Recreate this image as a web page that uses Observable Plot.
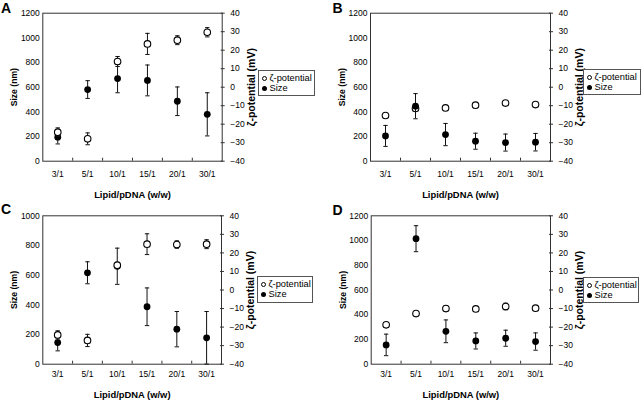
<!DOCTYPE html>
<html>
<head>
<meta charset="utf-8">
<script src="https://cdn.jsdelivr.net/npm/d3@7"></script>
<script src="https://cdn.jsdelivr.net/npm/@observablehq/plot@0.6"></script>
<style>
  html, body { margin: 0; padding: 0; background: #fff; }
  #root { position: relative; width: 641px; height: 401px; overflow: hidden;
          font-family: "Liberation Sans", Arial, sans-serif; color: #000; }
  .panel { position: absolute; }
  .panel svg { position: absolute; left: 0; top: 0; max-width: none !important; }
  .letter { position: absolute; font-weight: bold; font-size: 14px; line-height: 14px; }
  .legend { position: absolute; border: 1px solid #555; box-sizing: border-box; background: #fff;
            font-size: 9.3px; line-height: 10.5px; padding: 1.5px 0 0 3px; white-space: nowrap; }
  .legend .sw { display: inline-block; width: 5px; height: 5px; border-radius: 50%; box-sizing: border-box;
                margin-right: 2.5px; vertical-align: 0px; }
  .legend .open { border: 1px solid #000; background: #fff; }
  .legend .fill { background: #000; }
  svg [aria-label="y-axis label"] { font-weight: bold; }
  svg [aria-label="x-axis label"] { font-weight: bold; font-size: 9.4px; }
  svg.zt [aria-label="y-axis label"] { font-size: 10.5px; }
  svg.sz [aria-label="y-axis label"] { font-size: 8.6px; }
</style>
</head>
<body>
<div id="root"></div>
<script>
// ---- data ----
const ratios = ["3/1", "5/1", "10/1", "15/1", "20/1", "30/1"];
const sizeTicks1200 = [0, 200, 400, 600, 800, 1000, 1200];
const sizeTicks1000 = [0, 200, 400, 600, 800, 1000];
const zetaTicks = [-40, -30, -20, -10, 0, 10, 20, 30, 40];
const legendLabels = ["ζ-potential", "Size"];
const panelLetters = ["A", "B", "C", "D"];

// Panel A
const sizeA = [195, 581, 670, 655, 486, 380];
const sizeErrA = [55, 72, 115, 125, 116, 175];
const zetaA = [-24.3, -27.9, 13.9, 23.4, 25.4, 29.7];
const zetaErrA = [2.3, 3.2, 2.7, 5.7, 2.4, 2.5];
// Panel B
const sizeB = [205, 446, 216, 162, 151, 154];
const sizeErrB = [85, 102, 90, 65, 69, 71];
const zetaB = [-15.3, -11.5, -11.2, -9.7, -8.6, -9.4];
const zetaErrB = [0.8, 1.0, 0.8, 0.8, 0.8, 0.8];
// Panel C
const sizeC = [146, 616, 660, 387, 236, 178];
const sizeErrC = [56, 74, 122, 127, 119, 177];
const zetaC = [-24.2, -27.2, 13.4, 24.7, 24.5, 24.7];
const zetaErrC = [2.2, 3.3, 1.5, 5.6, 2.0, 2.4];
// Panel D
const sizeD = [156, 1015, 266, 188, 210, 183];
const sizeErrD = [87, 105, 92, 65, 65, 70];
const zetaD = [-18.8, -12.7, -10.0, -10.2, -8.9, -9.8];
const zetaErrD = [1.2, 0.5, 1.5, 1.0, 1.8, 1.0];

// ---- layout ----
const panels = [
  {letter: panelLetters[0], left: 0, top: 0, width: 320, height: 200, ml: 42.3, mr: 98.3, mt: 12.7, mb: 39.3,
   sizeMax: 1200, sizeTicks: sizeTicks1200, size: sizeA, sizeErr: sizeErrA, zeta: zetaA, zetaErr: zetaErrA,
   zetaOnTop: true, pad: 10, xlab: 37, lx: 1, ly: 1, leg: [258, 70, 57, 26]},
  {letter: panelLetters[1], left: 320, top: 0, width: 321, height: 200, ml: 50, mr: 91, mt: 12.7, mb: 39.3,
   sizeMax: 1200, sizeTicks: sizeTicks1200, size: sizeB, sizeErr: sizeErrB, zeta: zetaB, zetaErr: zetaErrB,
   zetaOnTop: false, pad: 10, xlab: 37, lx: 12.5, ly: 1, leg: [263, 69, 58, 26]},
  {letter: panelLetters[2], left: 0, top: 200, width: 320, height: 201, ml: 42.3, mr: 99, mt: 15.3, mb: 37.3,
   sizeMax: 1000, sizeTicks: sizeTicks1000, size: sizeC, sizeErr: sizeErrC, zeta: zetaC, zetaErr: zetaErrC,
   zetaOnTop: true, pad: 7, xlab: 34, lx: 1, ly: 2, leg: [257, 76, 56, 27]},
  {letter: panelLetters[3], left: 320, top: 200, width: 321, height: 201, ml: 50.7, mr: 91, mt: 15.3, mb: 37.3,
   sizeMax: 1200, sizeTicks: sizeTicks1200, size: sizeD, sizeErr: sizeErrD, zeta: zetaD, zetaErr: zetaErrD,
   zetaOnTop: false, pad: 7, xlab: 34, lx: 12.5, ly: 3, leg: [263, 77, 56, 26]}
];

const capSymbol = {draw(ctx) { ctx.moveTo(-2.2, 0); ctx.lineTo(2.2, 0); }};
const idx = d3.range(ratios.length);
const bounds = idx.slice(1).map(i => i - 0.5);
const fmtMinus = d => (d < 0 ? "\u2212" + Math.abs(d) : String(d));
const font = "'Liberation Sans', Arial, sans-serif";

const root = document.getElementById("root");

for (const p of panels) {
  const rows = idx.map(i => ({i, ratio: ratios[i], size: p.size[i], sizeErr: p.sizeErr[i], zeta: p.zeta[i], zetaErr: p.zetaErr[i]}));
  const common = {
    width: p.width, height: p.height,
    marginLeft: p.ml, marginRight: p.mr, marginTop: p.mt, marginBottom: p.mb,
    style: {background: "transparent", overflow: "visible", fontFamily: font, fontSize: "8.5px", color: "#000"}
  };

  const sizePlot = Plot.plot({
    ...common,
    className: "sz",
    x: {type: "linear", domain: [-0.5, ratios.length - 0.5]},
    y: {domain: [0, p.sizeMax]},
    marks: [
      Plot.frame({stroke: "#333", strokeWidth: 1}),
      Plot.axisY({ticks: p.sizeTicks, tickSize: 0, tickPadding: 3, tickFormat: d => String(d),
                  label: "Size (nm)", labelArrow: "none", labelAnchor: "center", labelOffset: 31.5}),
      Plot.axisX({ticks: idx, tickFormat: i => ratios[i], tickSize: 0, tickPadding: p.pad,
                  label: "Lipid/pDNA (w/w)", labelArrow: "none", labelAnchor: "center", labelOffset: p.xlab}),
      Plot.axisX({ticks: bounds, tickFormat: () => "", tickSize: 3, dy: -3, label: null, stroke: "#333"}),
      Plot.ruleX(rows, {x: "i", y1: d => d.size - d.sizeErr, y2: d => d.size + d.sizeErr, stroke: "#111", strokeWidth: 1}),
      Plot.dot(rows, {x: "i", y: d => d.size - d.sizeErr, symbol: capSymbol, stroke: "#111", strokeWidth: 1}),
      Plot.dot(rows, {x: "i", y: d => d.size + d.sizeErr, symbol: capSymbol, stroke: "#111", strokeWidth: 1}),
      Plot.dot(rows, {x: "i", y: "size", r: 3.4, fill: "#000", stroke: "none"})
    ]
  });

  const zetaPlot = Plot.plot({
    ...common,
    className: "zt",
    x: {type: "linear", domain: [-0.5, ratios.length - 0.5], axis: null},
    y: {domain: [-40, 40]},
    marks: [
      Plot.axisY({anchor: "right", ticks: zetaTicks, tickSize: 4, dx: -2, tickFormat: () => "", label: null, stroke: "#333"}),
      Plot.axisY({anchor: "right", ticks: zetaTicks, tickSize: 0, tickPadding: 8, tickFormat: fmtMinus,
                  label: "ζ-potential (mV)", labelArrow: "none", labelAnchor: "center", labelOffset: 32.5}),
      Plot.ruleX(rows, {x: "i", y1: d => d.zeta - d.zetaErr, y2: d => d.zeta + d.zetaErr, stroke: "#111", strokeWidth: 1}),
      Plot.dot(rows, {x: "i", y: d => d.zeta - d.zetaErr, symbol: capSymbol, stroke: "#111", strokeWidth: 1}),
      Plot.dot(rows, {x: "i", y: d => d.zeta + d.zetaErr, symbol: capSymbol, stroke: "#111", strokeWidth: 1}),
      Plot.dot(rows, {x: "i", y: "zeta", r: 3.3, fill: "#fff", stroke: "#000", strokeWidth: 1.1})
    ]
  });

  const div = document.createElement("div");
  div.className = "panel";
  Object.assign(div.style, {left: p.left + "px", top: p.top + "px", width: p.width + "px", height: p.height + "px"});
  if (p.zetaOnTop) { div.appendChild(sizePlot); div.appendChild(zetaPlot); }
  else { div.appendChild(zetaPlot); div.appendChild(sizePlot); }

  const letter = document.createElement("div");
  letter.className = "letter";
  letter.textContent = p.letter;
  Object.assign(letter.style, {left: p.lx + "px", top: p.ly + "px"});
  div.appendChild(letter);

  const leg = document.createElement("div");
  leg.className = "legend";
  const [lx, ly, lw, lh] = p.leg;
  Object.assign(leg.style, {left: lx + "px", top: ly + "px", width: lw + "px", height: lh + "px"});
  leg.innerHTML = `<div><span class="sw open"></span>${legendLabels[0]}</div><div><span class="sw fill"></span>${legendLabels[1]}</div>`;
  div.appendChild(leg);

  root.appendChild(div);
}
</script>
</body>
</html>
